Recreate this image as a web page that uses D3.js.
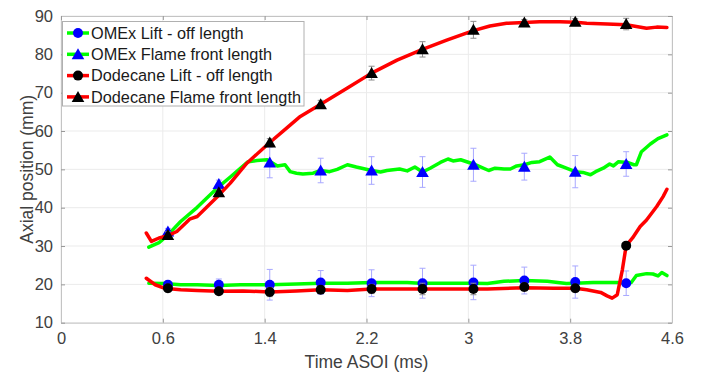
<!DOCTYPE html>
<html><head><meta charset="utf-8">
<script src="https://cdn.jsdelivr.net/npm/d3@7"></script>
<style>
html,body{margin:0;padding:0;background:#fff;}
text{font-family:"Liberation Sans",Arial,Helvetica,sans-serif;}
</style></head>
<body><svg id="chart" width="704" height="376"></svg>
<script>
// ---- data ----
const xTickValues = [-0.2, 0.6, 1.4, 2.2, 3.0, 3.8, 4.6];
const xTickLabels = ["0", "0.6", "1.4", "2.2", "3", "3.8", "4.6"];
const yTickValues = [10, 20, 30, 40, 50, 60, 70, 80, 90];

const markerTimes = [0.64, 1.04, 1.44, 1.84, 2.24, 2.64, 3.04, 3.44, 3.84, 4.24];
const omexLiftMarkers = [19.9, 19.9, 19.9, 20.5, 20.3, 20.3, 20.5, 21.0, 20.6, 20.3];
const omexLiftErr = [1.0, 1.5, 4.0, 3.1, 3.5, 3.9, 4.5, 3.5, 4.2, 3.2];
const omexFlameMarkers = [33.8, 46.2, 51.8, 49.7, 49.7, 49.3, 51.2, 50.7, 49.4, 51.4];
const omexFlameErr = [0.8, 1.0, 4.0, 3.2, 3.6, 4.0, 4.3, 3.5, 4.2, 3.2];
const dodLiftMarkers = [19.0, 18.2, 18.0, 18.6, 18.8, 18.8, 18.8, 19.3, 19.0, 30.1];
const dodLiftErr = [1.0, 0.8, 1.2, 1.0, 1.2, 1.5, 1.5, 1.0, 1.0, 0.8];
const dodFlameMarkers = [32.9, 44.0, 57.0, 67.0, 75.1, 81.3, 86.4, 88.3, 88.5, 87.9];
const dodFlameErr = [0.8, 0.8, 1.0, 1.0, 1.8, 2.0, 2.2, 0.8, 0.8, 1.5];

const omexFlameT = [0.49,0.57,0.64,0.74,0.87,1.04,1.13,1.27,1.34,1.42,1.50,1.56,1.60,1.65,1.70,1.78,1.84,1.91,1.97,2.05,2.12,2.24,2.31,2.36,2.46,2.52,2.58,2.64,2.70,2.78,2.84,2.88,2.94,3.04,3.09,3.16,3.21,3.28,3.33,3.38,3.44,3.50,3.56,3.64,3.70,3.77,3.84,3.90,3.96,4.00,4.06,4.11,4.14,4.18,4.25,4.30,4.32,4.36,4.43,4.49,4.56];
const omexFlameV = [29.7,30.9,32.9,36.4,40.1,45.5,48.0,52.0,52.3,52.5,50.9,51.2,49.4,49.0,48.8,49.0,49.7,49.4,50.0,51.2,50.6,49.7,49.3,49.7,50.1,49.6,50.6,49.3,50.3,51.8,52.7,52.2,52.5,51.4,50.7,49.7,50.3,50.1,50.1,50.9,51.2,51.8,52.0,53.2,51.2,50.3,49.4,49.2,48.6,49.4,50.3,51.4,50.9,52.0,51.8,51.2,51.2,54.6,56.6,58.0,59.0];

const dodFlameT = [0.47,0.51,0.57,0.64,0.71,0.78,0.81,0.87,0.95,1.05,1.13,1.26,1.44,1.57,1.68,1.84,2.05,2.24,2.44,2.64,2.83,3.04,3.17,3.30,3.44,3.56,3.72,3.84,3.93,4.09,4.24,4.40,4.48,4.56];
const dodFlameV = [33.4,31.2,32.1,32.7,33.8,36.0,37.0,37.7,40.3,43.6,46.4,51.6,57.0,60.7,63.8,67.0,71.2,75.1,78.5,81.3,83.7,86.2,87.4,88.1,88.3,88.5,88.5,88.4,88.1,87.9,87.7,86.8,87.1,87.0];

const omexLiftT = [0.49,0.61,0.74,0.87,1.04,1.21,1.44,1.65,1.84,2.05,2.24,2.52,2.62,3.04,3.15,3.28,3.44,3.62,3.77,3.84,3.98,4.17,4.24,4.28,4.32,4.40,4.45,4.49,4.52,4.56];
const omexLiftV = [20.3,20.2,19.9,19.9,19.7,19.9,19.9,20.1,20.3,20.3,20.5,20.5,20.3,20.3,20.2,20.8,21.0,20.8,20.2,20.3,20.5,20.5,20.3,20.5,22.3,22.8,22.7,22.2,23.1,22.3];

const dodLiftT = [0.47,0.54,0.61,0.74,0.87,1.04,1.23,1.44,1.65,1.84,2.05,2.24,2.52,3.15,3.44,3.67,3.84,3.93,4.04,4.09,4.13,4.17,4.21,4.24,4.29,4.35,4.40,4.48,4.53,4.56];
const dodLiftV = [21.6,19.9,19.0,18.6,18.4,18.2,18.3,18.0,18.3,18.6,18.4,18.8,18.8,18.8,19.1,19.0,19.0,18.6,17.9,17.0,16.4,17.3,23.8,30.1,32.1,35.1,36.8,40.3,42.9,44.8];

const legendLabels = ["OMEx Lift - off length", "OMEx Flame front length", "Dodecane Lift - off length", "Dodecane Flame front length"];

// ---- chart ----
const svg = d3.select("#chart");
svg.append("rect").attr("width", 704).attr("height", 376).attr("fill", "#fff");

const x = d3.scaleLinear().domain([-0.2, 4.6]).range([61, 672]);
const y = d3.scaleLinear().domain([10, 90]).range([322.7, 16]);

const g = svg.append("g");

// grid
g.selectAll(".gx").data(xTickValues).enter().append("line")
  .attr("x1", d => x(d)).attr("x2", d => x(d)).attr("y1", y(10)).attr("y2", y(90))
  .attr("stroke", "#ebebeb").attr("stroke-width", 1);
g.selectAll(".gy").data(yTickValues).enter().append("line")
  .attr("y1", d => y(d)).attr("y2", d => y(d)).attr("x1", x(-0.2)).attr("x2", x(4.6))
  .attr("stroke", "#ebebeb").attr("stroke-width", 1);

// axes
const fontSize = "16.5px";
const axB = d3.axisBottom(x).tickValues(xTickValues).tickFormat((d, i) => xTickLabels[i]).tickSizeInner(-4).tickSizeOuter(0).tickPadding(10);
const axL = d3.axisLeft(y).tickValues(yTickValues).tickSizeInner(-4).tickSizeOuter(0).tickPadding(8);
const axT = d3.axisTop(x).tickValues(xTickValues).tickFormat("").tickSizeInner(-4).tickSizeOuter(0);
const axR = d3.axisRight(y).tickValues(yTickValues).tickFormat("").tickSizeInner(-4).tickSizeOuter(0);

function styleAxis(sel) {
  sel.select(".domain").attr("stroke", "#c4c4c4");
  sel.selectAll(".tick line").attr("stroke", "#999");
  sel.selectAll(".tick text").attr("fill", "#404040").style("font-size", fontSize)
    .style("font-family", "'Liberation Sans',Arial,sans-serif");
}
g.append("g").attr("transform", `translate(0,${y(10)})`).call(axB).call(styleAxis);
g.append("g").attr("transform", `translate(${x(-0.2)},0)`).call(axL).call(styleAxis);
g.append("g").attr("transform", `translate(0,${y(90)})`).call(axT).call(styleAxis);
g.append("g").attr("transform", `translate(${x(4.6)},0)`).call(axR).call(styleAxis);

// axis titles
svg.append("text").attr("x", (x(-0.2) + x(4.6)) / 2).attr("y", 368)
  .attr("text-anchor", "middle").attr("fill", "#404040").style("font-size", "17.5px").text("Time ASOI (ms)");
svg.append("text").attr("transform", `translate(33,${(y(10) + y(90)) / 2}) rotate(-90)`)
  .attr("text-anchor", "middle").attr("fill", "#404040").style("font-size", "17.5px").text("Axial position (mm)");

// helpers
const line = d3.line().x(d => x(d[0])).y(d => y(d[1]));
const triPath = "M0,-6 L6.3,5 L-6.3,5 Z";

function drawLine(T, V, color) {
  g.append("path").datum(T.map((t, i) => [t, V[i]]))
    .attr("d", line).attr("fill", "none").attr("stroke", color)
    .attr("stroke-width", 3.5).attr("stroke-linejoin", "round").attr("stroke-linecap", "round");
}
function drawErr(V, E, color) {
  const data = markerTimes.map((t, i) => ({ t, v: V[i], e: E[i] }));
  const eg = g.append("g").attr("stroke", color).attr("stroke-width", 1);
  eg.selectAll(".v").data(data).enter().append("line")
    .attr("x1", d => x(d.t)).attr("x2", d => x(d.t)).attr("y1", d => y(d.v - d.e)).attr("y2", d => y(d.v + d.e));
  eg.selectAll(".c1").data(data).enter().append("line")
    .attr("x1", d => x(d.t) - 3).attr("x2", d => x(d.t) + 3).attr("y1", d => y(d.v - d.e)).attr("y2", d => y(d.v - d.e));
  eg.selectAll(".c2").data(data).enter().append("line")
    .attr("x1", d => x(d.t) - 3).attr("x2", d => x(d.t) + 3).attr("y1", d => y(d.v + d.e)).attr("y2", d => y(d.v + d.e));
}
function drawCircles(V, color) {
  g.append("g").selectAll("circle").data(markerTimes.map((t, i) => [t, V[i]])).enter().append("circle")
    .attr("cx", d => x(d[0])).attr("cy", d => y(d[1])).attr("r", 5).attr("fill", color);
}
function drawTris(V, color) {
  g.append("g").selectAll("path").data(markerTimes.map((t, i) => [t, V[i]])).enter().append("path")
    .attr("transform", d => `translate(${x(d[0])},${y(d[1])})`).attr("d", triPath).attr("fill", color);
}

// OMEx
drawLine(omexLiftT, omexLiftV, "#00ff00");
drawLine(omexFlameT, omexFlameV, "#00ff00");
drawErr(omexLiftMarkers, omexLiftErr, "#a8a8ff");
drawErr(omexFlameMarkers, omexFlameErr, "#a8a8ff");
drawCircles(omexLiftMarkers, "#0000ff");
drawTris(omexFlameMarkers, "#0000ff");
// Dodecane
drawLine(dodLiftT, dodLiftV, "#ff0000");
drawLine(dodFlameT, dodFlameV, "#ff0000");
drawErr(dodLiftMarkers, dodLiftErr, "#8c8c8c");
drawErr(dodFlameMarkers, dodFlameErr, "#8c8c8c");
drawCircles(dodLiftMarkers, "#000000");
drawTris(dodFlameMarkers, "#000000");

// legend
const lg = svg.append("g");
lg.append("rect").attr("x", 62.5).attr("y", 21.5).attr("width", 241.5).attr("height", 84.5)
  .attr("fill", "#fff").attr("stroke", "#b0b0b0").attr("stroke-width", 1);
const legendColors = ["#00ff00", "#00ff00", "#ff0000", "#ff0000"];
const legendMarkColors = ["#0000ff", "#0000ff", "#000000", "#000000"];
const legendShapes = ["circle", "tri", "circle", "tri"];
legendLabels.forEach((lab, i) => {
  const cy = 33 + i * 21.3;
  lg.append("line").attr("x1", 67).attr("x2", 89).attr("y1", cy).attr("y2", cy)
    .attr("stroke", legendColors[i]).attr("stroke-width", 3.5);
  if (legendShapes[i] === "circle") {
    lg.append("circle").attr("cx", 78).attr("cy", cy).attr("r", 5).attr("fill", legendMarkColors[i]);
  } else {
    lg.append("path").attr("transform", `translate(78,${cy})`).attr("d", triPath).attr("fill", legendMarkColors[i]);
  }
  lg.append("text").attr("x", 91).attr("y", cy + 5.8).attr("fill", "#1a1a1a")
    .style("font-size", "16.3px").text(lab);
});
</script></body></html>
